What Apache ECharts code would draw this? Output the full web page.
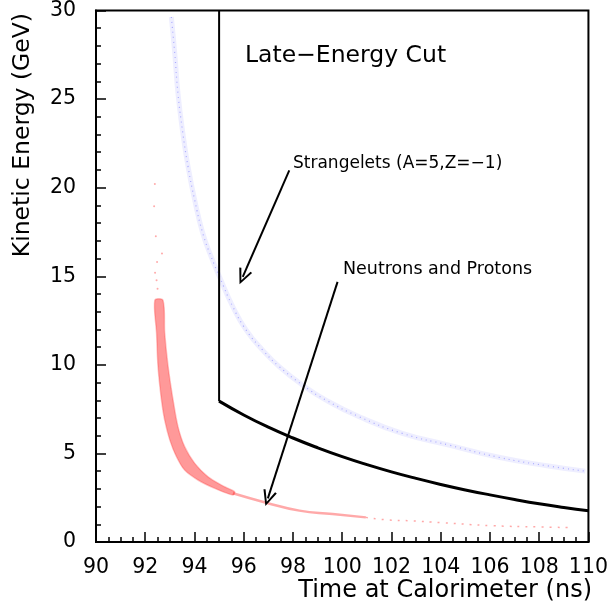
<!DOCTYPE html>
<html>
<head>
<meta charset="utf-8">
<script src="https://cdn.jsdelivr.net/npm/echarts@6/dist/echarts.min.js"></script>
<style>
html, body { margin: 0; padding: 0; background: #fff; }
#chart { width: 611px; height: 606px; }
</style>
</head>
<body>
<div id="chart"></div>
<script>
// 坐标轴刻度
var xTicks = [90, 92, 94, 96, 98, 100, 102, 104, 106, 108, 110];
var yTicks = [0, 5, 10, 15, 20, 25, 30];

// 截断线: 竖线 + 曲线 (time ns, energy GeV)
var cutVertical = [[95, 30], [95, 7.95]];
var cutCurve = [[95, 7.95], [96, 7.17], [97, 6.48], [98, 5.87], [99, 5.32], [100, 4.82],
	[101, 4.37], [102, 3.96], [103, 3.59], [104, 3.25], [105, 2.94], [106, 2.66],
	[107, 2.4], [108, 2.16], [109, 1.95], [110, 1.76]];

// Strangelets 带的中心线
var strangeBand = [[93.06, 29.63], [93.2, 27.56], [93.33, 25.31], [93.53, 23.05],
	[93.74, 21.17], [94.01, 19.29], [94.34, 17.41], [94.68, 16.09], [95.02, 14.96],
	[95.56, 13.27], [96.1, 11.96], [96.77, 10.83], [97.45, 9.89], [98.39, 8.86],
	[99.34, 8.01], [100.69, 7.07], [102.44, 6.13], [104.33, 5.47], [106.36, 4.78],
	[108.38, 4.29], [109.87, 4.0]];

// 中子/质子 密集区的外侧与内侧边界
var nucleonOuter = [[92.39, 13.65], [92.46, 11.79], [92.52, 9.89], [92.66, 8.01],
	[92.79, 6.88], [93.0, 5.75], [93.27, 4.81], [93.6, 4.06], [94.14, 3.5],
	[94.82, 3.03], [95.56, 2.65]];
var nucleonInner = [[92.72, 13.65], [92.79, 11.79], [92.93, 9.89], [93.13, 8.01],
	[93.33, 6.5], [93.6, 5.38], [94.01, 4.44], [94.55, 3.68], [95.22, 3.12],
	[95.63, 2.84]];
// 中子/质子 尾部 (近处较密, 远处稀疏)
var nucleonTailNear = [[95.56, 2.75], [96.91, 2.22], [98.26, 1.77], [99.61, 1.58],
	[100.96, 1.39]];
var nucleonTailFar = [[100.96, 1.39], [101.9, 1.24], [102.71, 1.2], [104.06, 1.09],
	[106.09, 0.92], [107.98, 0.85], [109.32, 0.81]];
// 高能稀疏点
var nucleonSparse = [[92.39, 20.2], [92.36, 18.95], [92.43, 17.26], [92.68, 16.28],
	[92.48, 15.8], [92.4, 15.2], [92.46, 14.78], [92.5, 14.3]];

// 注释箭头
var arrowStrange = [[97.85, 20.98], [95.96, 14.96]];
var arrowNucleon = [[99.81, 14.68], [96.98, 2.46]];

var font = 'DejaVu Sans';
var chevron = 'path://M0,0 L-7,15 L-5,15.6 L0,4.4 L5,15.6 L7,15 Z';

var myChart = echarts.init(document.getElementById('chart'));

var nucleonPoly = nucleonOuter.concat(nucleonInner.slice().reverse());

var option = {
	backgroundColor : '#fff',
	animation : false,
	grid : {
		left : 96,
		right : 21,
		top : 10,
		bottom : 64,
		show : true,
		borderColor : '#000',
		borderWidth : 2
	},
	xAxis : {
		type : 'value',
		min : xTicks[0],
		max : xTicks[xTicks.length - 1],
		interval : 2,
		axisLine : { onZero : false, lineStyle : { color : '#000', width : 2 } },
		axisTick : { show : true, inside : false, length : -10, lineStyle : { color : '#000', width : 1.5 } },
		minorTick : { show : true, splitNumber : 4, length : -5, lineStyle : { color : '#000', width : 1.5 } },
		splitLine : { show : false },
		axisLabel : { color : '#000', fontFamily : font, fontSize : 20.5, margin : 15 }
	},
	yAxis : {
		type : 'value',
		min : yTicks[0],
		max : yTicks[yTicks.length - 1],
		interval : 5,
		axisLine : { onZero : false, lineStyle : { color : '#000', width : 2 } },
		axisTick : { show : true, inside : false, length : -10, lineStyle : { color : '#000', width : 1.5 } },
		minorTick : { show : true, splitNumber : 5, length : -5, lineStyle : { color : '#000', width : 1.5 } },
		splitLine : { show : false },
		axisLabel : { color : '#000', fontFamily : font, fontSize : 20.5, margin : 20 }
	},
	graphic : [ {
		type : 'text', left : 245, top : 44,
		style : { text : 'Late\u2212Energy Cut', font : '23.5px "DejaVu Sans"', fill : '#000' }
	}, {
		type : 'text', left : 293, top : 155,
		style : { text : 'Strangelets (A=5,Z=\u22121)', font : '17px "DejaVu Sans"', fill : '#000' }
	}, {
		type : 'text', left : 343, top : 260,
		style : { text : 'Neutrons and Protons', font : '17.5px "DejaVu Sans"', fill : '#000' }
	}, {
		type : 'text', right : 19, top : 579,
		style : { text : 'Time at Calorimeter (ns)', font : '24px "DejaVu Sans"', fill : '#000' }
	}, {
		type : 'text', left : 11, top : 13, rotation : Math.PI / 2,
		style : { text : 'Kinetic Energy (GeV)', font : '23.5px "DejaVu Sans"', fill : '#000' }
	} ],
	series : [ {
		// 中子/质子 密集区
		type : 'custom',
		data : [ [0, 0] ],
		clip : true,
		renderItem : function(params, api) {
			var pts = nucleonPoly.map(function(p) { return api.coord(p); });
			return {
				type : 'polygon',
				shape : { points : pts, smooth : 0.3 },
				style : { fill : 'rgba(255,0,0,0.4)', stroke : 'rgba(255,60,60,0.3)', lineWidth : 1.5 }
			};
		},
		z : 2
	}, {
		type : 'line',
		data : nucleonTailNear,
		smooth : true,
		showSymbol : false,
		lineStyle : { color : 'rgba(255,40,40,0.4)', width : 2.5 },
		z : 2
	}, {
		type : 'line',
		data : nucleonTailFar,
		smooth : true,
		showSymbol : false,
		lineStyle : { color : 'rgba(255,60,60,0.45)', width : 1.5, type : [2, 6] },
		z : 2
	}, {
		type : 'scatter',
		data : nucleonSparse,
		symbolSize : 2,
		itemStyle : { color : 'rgba(255,80,80,0.6)' },
		z : 2
	}, {
		// Strangelets
		type : 'line',
		data : strangeBand,
		smooth : true,
		showSymbol : false,
		lineStyle : { color : 'rgba(120,120,255,0.13)', width : 5 },
		z : 2
	}, {
		type : 'line',
		data : strangeBand,
		smooth : true,
		showSymbol : false,
		lineStyle : { color : 'rgba(90,90,255,0.45)', width : 1.2, type : [1, 4] },
		z : 2
	}, {
		type : 'line',
		data : cutVertical,
		showSymbol : false,
		lineStyle : { color : '#000', width : 2 },
		z : 3
	}, {
		type : 'line',
		data : cutCurve,
		smooth : true,
		showSymbol : false,
		lineStyle : { color : '#000', width : 3 },
		z : 3,
		markLine : {
			silent : true,
			symbol : [ 'none', chevron ],
			symbolSize : [ 14, 16 ],
			label : { show : false },
			lineStyle : { color : '#000', width : 2, type : 'solid' },
			data : [
				[ { coord : arrowStrange[0] }, { coord : arrowStrange[1] } ],
				[ { coord : arrowNucleon[0] }, { coord : arrowNucleon[1] } ]
			]
		}
	} ]
};

myChart.setOption(option);
</script>
</body>
</html>
